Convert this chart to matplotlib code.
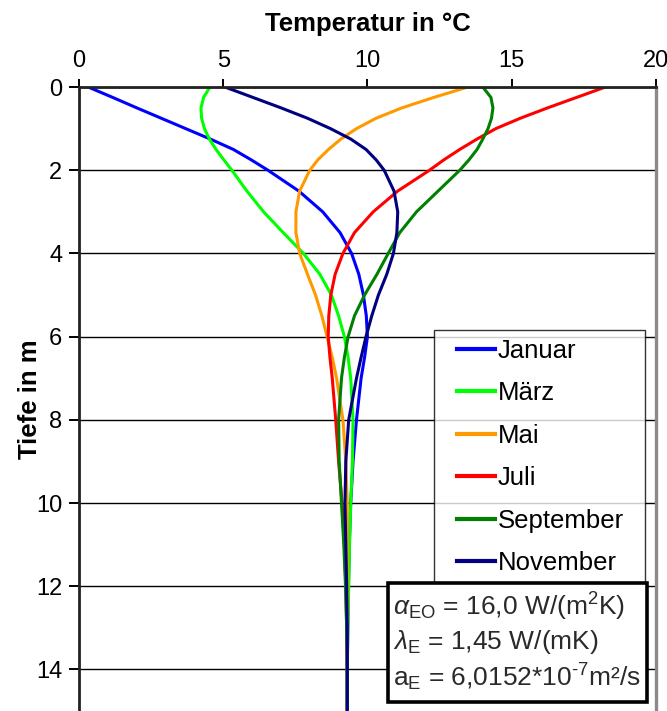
import matplotlib
matplotlib.use("Agg")
import matplotlib.pyplot as plt
from matplotlib.legend_handler import HandlerLine2D
from matplotlib.patches import Rectangle

plt.rcParams["font.family"] = ["Liberation Sans", "DejaVu Sans"]
plt.rcParams["mathtext.fontset"] = "custom"
plt.rcParams["mathtext.rm"] = "Liberation Sans"
plt.rcParams["mathtext.it"] = "Liberation Sans:italic"

# Tiefe in m
tiefe = [0, 0.25, 0.5, 0.75, 1, 1.25, 1.5, 1.75, 2, 2.5, 3, 3.5, 4, 4.5, 5,
         5.5, 6, 6.5, 7, 8, 9, 10, 11, 12, 13, 14, 15]

# Temperatur in °C je Monat
januar = [0.32, 1.17, 2.0, 2.85, 3.7, 4.55, 5.35, 5.97, 6.55, 7.62, 8.45,
          9.05, 9.45, 9.7, 9.86, 9.96, 10.0, 9.9, 9.78, 9.62, 9.5, 9.42,
          9.37, 9.34, 9.32, 9.3, 9.3]
maerz = [4.54, 4.32, 4.23, 4.25, 4.35, 4.52, 4.75, 5.02, 5.3, 5.82, 6.4,
         7.08, 7.78, 8.35, 8.75, 9.0, 9.2, 9.33, 9.42, 9.5, 9.48, 9.42,
         9.38, 9.35, 9.32, 9.3, 9.3]
mai = [13.48, 12.3, 11.2, 10.3, 9.62, 9.08, 8.65, 8.28, 8.0, 7.65, 7.52,
       7.52, 7.65, 7.92, 8.2, 8.42, 8.6, 8.78, 8.93, 9.15, 9.25, 9.3, 9.3,
       9.3, 9.3, 9.3, 9.3]
juli = [18.25, 17.25, 16.25, 15.3, 14.45, 13.8, 13.2, 12.65, 12.15, 11.05,
        10.2, 9.55, 9.15, 8.88, 8.73, 8.66, 8.64, 8.7, 8.78, 8.9, 9.0, 9.12,
        9.2, 9.25, 9.28, 9.3, 9.3]
september = [14.0, 14.28, 14.35, 14.3, 14.18, 14.0, 13.8, 13.52, 13.2, 12.45,
             11.7, 11.12, 10.72, 10.33, 9.9, 9.55, 9.33, 9.2, 9.1, 9.0, 9.02,
             9.1, 9.18, 9.24, 9.28, 9.3, 9.3]
november = [5.06, 6.03, 7.0, 7.92, 8.72, 9.42, 9.95, 10.3, 10.58, 10.92,
            11.05, 11.02, 10.9, 10.67, 10.38, 10.15, 9.95, 9.78, 9.62, 9.35,
            9.25, 9.22, 9.25, 9.28, 9.3, 9.3, 9.3]

monate = ["Januar", "März", "Mai", "Juli", "September", "November"]
profile = [januar, maerz, mai, juli, september, november]
farben = ["#0000ff", "#00ff00", "#ff9900", "#ff0000", "#008000", "#000080"]

x_ticks = [0, 5, 10, 15, 20]
y_ticks = [0, 2, 4, 6, 8, 10, 12, 14]

parameter = [
    r"$\alpha_{\rm EO}$ = 16,0 W/(m$^{\rm 2}$K)",
    r"$\lambda_{\rm E}$ = 1,45 W/(mK)",
    "a$_{\\rm E}$ = 6,0152*10$^{\\rm \u2010 7}$m²/s",
]

fig = plt.figure(figsize=(6.67, 7.11), dpi=100)
ax = fig.add_axes([0.1184, 0.0, 0.865, 0.8776])

for name, werte, farbe in zip(monate, profile, farben):
    ax.plot(werte, tiefe, color=farbe, lw=2.2, label=name)

ax.set_xlim(0, 20)
ax.set_ylim(15, 0)
ax.set_xticks(x_ticks)
ax.set_yticks(y_ticks)
ax.xaxis.tick_top()
ax.xaxis.set_label_position("top")
ax.tick_params(axis="x", direction="out", length=6, width=1.4,
               labelsize=17, pad=5)
ax.tick_params(axis="y", direction="out", length=7, width=1.4,
               labelsize=17, pad=5)
ax.set_xlabel("Temperatur in °C", fontsize=18.5, fontweight="bold",
              labelpad=13.5)
ax.set_ylabel("Tiefe in m", fontsize=18.5, fontweight="bold", labelpad=-4)

# horizontale Gitterlinien
ax.set_axisbelow(True)
ax.yaxis.grid(True, color="black", lw=1.0)

ax.spines["bottom"].set_visible(False)
ax.spines["top"].set_linewidth(2.0)
ax.spines["top"].set_color("#222222")
ax.spines["left"].set_linewidth(2.0)
ax.spines["left"].set_color("#222222")
ax.spines["right"].set_linewidth(2.4)
ax.spines["right"].set_color("#8a8a8a")

leg = ax.legend(loc="upper left", bbox_to_anchor=(0.615, 0.0, 0.3657, 0.611),
                mode="expand", fontsize=18.5, frameon=True, fancybox=False,
                borderpad=0.35, handlelength=2.05, handletextpad=0.08,
                labelspacing=0.72, borderaxespad=0,
                handler_map={plt.Line2D: HandlerLine2D(xpad=0.54)})
leg.get_frame().set_edgecolor("black")
leg.get_frame().set_linewidth(1.0)
for line in leg.get_lines():
    line.set_linewidth(3)

# Kasten mit den Bodenparametern
fig.add_artist(Rectangle((0.5817, 0.0127), 0.388, 0.1673,
                         transform=fig.transFigure, facecolor="white",
                         edgecolor="black", lw=2.6, zorder=10))
for i, txt in enumerate(parameter):
    fig.text(0.589, 0.147 - i * 0.0495, txt, fontsize=19, color="#2a2a2a",
             va="center", ha="left", zorder=11)

fig.savefig("out.png", dpi=100)
